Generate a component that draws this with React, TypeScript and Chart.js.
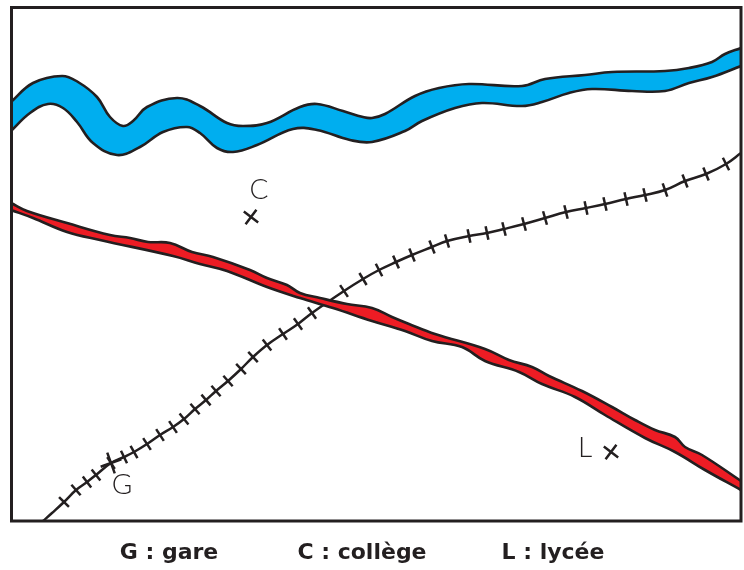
import React, { useEffect, useRef } from "react";
import { Chart, registerables } from "chart.js";

Chart.register(...registerables);

const INK = "#231f20";
const BLUE = "#00aeef";
const RED = "#ed1c24";

const riverTopX = [11, 33, 62, 78, 97, 110, 123, 133, 147, 177, 200, 227, 243, 267, 300, 317, 343, 363, 372, 385, 415, 439, 469, 522, 545, 585, 612, 665, 689, 712, 725, 741];
const riverTopY = [102, 83, 76, 82, 97, 117, 126, 121, 107, 98, 106, 123, 126, 123, 107, 104, 111, 117, 118, 114, 96, 88, 84, 86, 79, 75, 72, 71, 68, 62, 54, 48];
const riverBottomX = [11, 30, 48, 63, 77, 93, 117, 140, 163, 187, 200, 217, 233, 257, 293, 317, 350, 372, 405, 422, 455, 482, 522, 542, 569, 592, 632, 665, 689, 712, 741];
const riverBottomY = [131, 113, 104, 108, 122, 143, 155, 147, 132, 127, 133, 148, 152, 145, 129, 130, 140, 142, 131, 121, 108, 103, 106, 102, 93, 89, 91, 91, 83, 77, 66];

const roadTopX = [11, 27, 67, 110, 130, 148, 170, 192, 213, 250, 267, 287, 300, 320, 347, 372, 392, 409, 435, 485, 509, 532, 549, 582, 612, 635, 655, 675, 685, 702, 741];
const roadTopY = [203, 211, 223, 235, 238, 242, 243, 252, 257, 270, 278, 285, 293, 298, 304, 308, 317, 324, 334, 349, 360, 367, 376, 391, 407, 420, 430, 437, 447, 455, 481];
const roadBottomX = [11, 33, 67, 100, 173, 200, 227, 267, 300, 333, 372, 405, 432, 462, 485, 519, 542, 575, 605, 645, 675, 705, 741];
const roadBottomY = [210, 218, 232, 240, 256, 264, 271, 287, 298, 308, 321, 331, 341, 347, 361, 372, 384, 397, 415, 438, 452, 470, 490];

const railTickX = [64, 76, 87, 96, 111, 124, 134, 147, 160, 173, 184, 195, 206, 216, 228, 241, 253, 267, 283, 298, 312, 344, 363, 379, 396, 412, 432, 447, 469, 487, 504, 524, 545, 566, 586, 605, 626, 645, 665, 685, 706, 726];
const railTickY = [502, 490, 482, 475, 463, 457, 452, 444, 435, 427, 419, 409, 400, 391, 381, 369, 357, 345, 334, 324, 313, 291, 279, 270, 262, 255, 247, 241, 236, 233, 229, 224, 218, 212, 208, 204, 199, 195, 190, 181, 174, 164];
const railStartX = [43, 52];
const railStartY = [521, 513];
const railEndX = [741];
const railEndY = [153];

const placeNames = ["C", "L", "G"];
const placeX = [251, 611, 111];
const placeY = [217, 452, 463];
const placeNameX = [259, 585, 122];
const placeNameY = [190, 448, 485];

const legendLabels = ["G : gare", "C : collège", "L : lycée"];
const legendCenters = [169, 362, 553];

const pts = (xs: number[], ys: number[]) => xs.map((x, i) => ({ x, y: ys[i] }));

const tickAngle = (i: number) => {
  const a = Math.max(0, i - 1);
  const b = Math.min(railTickX.length - 1, i + 1);
  return (Math.atan2(railTickY[b] - railTickY[a], railTickX[b] - railTickX[a]) * 180) / Math.PI + 90;
};

const framePlugin = {
  id: "frame",
  afterDatasetsDraw(chart: any) {
    const { ctx, chartArea: a, scales } = chart;
    ctx.save();
    ctx.strokeStyle = INK;
    ctx.lineWidth = 3;
    ctx.strokeRect(a.left, a.top, a.right - a.left, a.bottom - a.top);
    ctx.fillStyle = INK;
    ctx.font = '300 28px "Lato", "Open Sans", sans-serif';
    ctx.textAlign = "center";
    ctx.textBaseline = "middle";
    placeNames.forEach((n, i) => {
      ctx.fillText(n, scales.x.getPixelForValue(placeNameX[i]), scales.y.getPixelForValue(placeNameY[i]));
    });
    ctx.restore();
  },
};

export default function App() {
  const ref = useRef<HTMLCanvasElement>(null);
  useEffect(() => {
    const edge = (xs: number[], ys: number[], extra: any = {}) => ({
      data: pts(xs, ys),
      borderColor: INK,
      borderWidth: 2.6,
      pointRadius: 0,
      tension: 0.4,
      borderJoinStyle: "round",
      ...extra,
    });
    const chart = new Chart(ref.current!, {
      type: "line",
      data: {
        datasets: [
          edge(riverTopX, riverTopY, { label: "Rivière", order: 4, fill: { target: 1 }, backgroundColor: BLUE }),
          edge(riverBottomX, riverBottomY, { label: "Rivière (rive)", order: 3, fill: false }),
          edge(roadTopX, roadTopY, { label: "Route", order: 1, fill: { target: 3 }, backgroundColor: RED }),
          edge(roadBottomX, roadBottomY, { label: "Route (bord)", order: 0, fill: false }),
          edge(
            [...railStartX, ...railTickX, ...railEndX],
            [...railStartY, ...railTickY, ...railEndY],
            { label: "Voie ferrée", order: 5, fill: false, borderWidth: 2.5 }
          ),
          {
            label: "Traverses",
            order: 6,
            data: pts(railTickX, railTickY),
            showLine: false,
            pointStyle: "line",
            pointRadius: 7,
            pointBorderWidth: 2.5,
            pointBorderColor: INK,
            pointRotation: (c: any) => tickAngle(c.dataIndex),
          },
          {
            label: "Lieux",
            order: -1,
            data: pts(placeX, placeY),
            showLine: false,
            pointStyle: "crossRot",
            pointRadius: (c: any) => (c.dataIndex === 2 ? 11 : 9),
            pointBorderWidth: 2.5,
            pointBorderColor: INK,
            pointRotation: (c: any) => (c.dataIndex === 2 ? 25 : -8),
          },
        ] as any,
      },
      options: {
        animation: false,
        responsive: false,
        devicePixelRatio: 1,
        parsing: false,
        layout: { autoPadding: false, padding: { left: 11.5, top: 7.5, right: 3, bottom: 0 } },
        plugins: { legend: { display: false }, tooltip: { enabled: false } },
        scales: {
          x: {
            type: "linear",
            min: 11.5,
            max: 741,
            grid: { display: false, drawTicks: false },
            border: { display: false },
            afterBuildTicks: (s: any) => {
              s.ticks = legendCenters.map((value) => ({ value }));
            },
            afterFit: (s: any) => {
              s.height = 49;
              s.paddingLeft = 0;
              s.paddingRight = 0;
            },
            ticks: {
              autoSkip: false,
              maxRotation: 0,
              padding: 19,
              color: INK,
              font: { family: '"DejaVu Sans", "Open Sans", sans-serif', size: 22, weight: "bold" },
              callback: (_v: any, i: number) => legendLabels[i],
            },
          },
          y: {
            type: "linear",
            display: false,
            reverse: true,
            min: 7.5,
            max: 521,
          },
        },
      } as any,
      plugins: [framePlugin],
    });
    return () => chart.destroy();
  }, []);
  return (
    <div style={{ position: "fixed", left: 0, top: 0, width: 744, height: 570, background: "#fff" }}>
      <canvas ref={ref} width={744} height={570} style={{ display: "block" }} />
    </div>
  );
}
